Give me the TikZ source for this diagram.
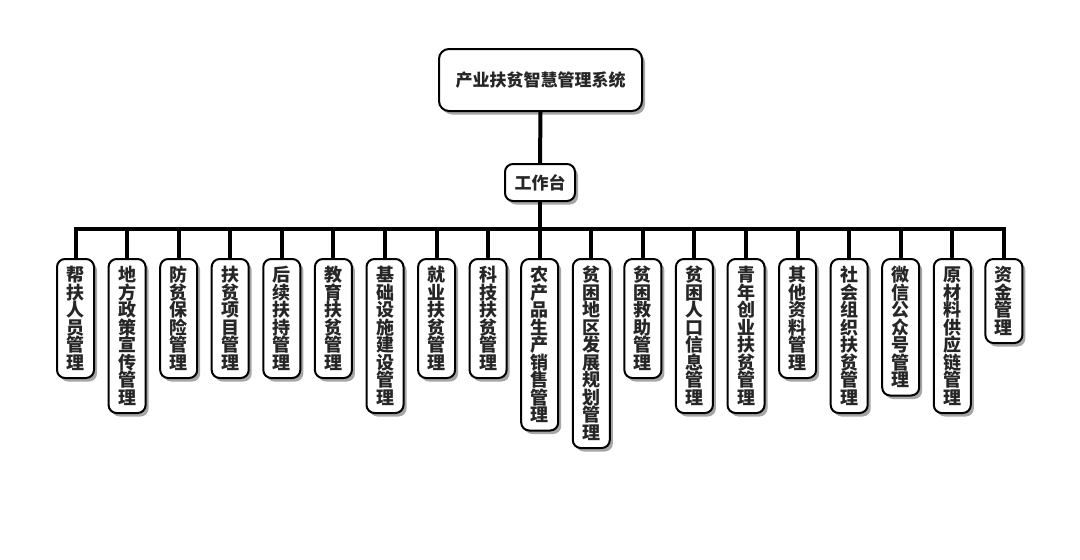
\documentclass[tikz,border=0pt]{standalone}
\usepackage{fontspec}
\setmainfont{Noto Sans CJK SC}
\usetikzlibrary{shadows,backgrounds}
\tikzset{
 box/.style={draw=black, line width=2pt, fill=white, rounded corners=8pt,
   drop shadow={shadow xshift=3pt, shadow yshift=-3.5pt, fill=black, opacity=0.35},
   font=\bfseries\fontsize{17}{17.5}\selectfont, text=black!85},
 leaf/.style={box, anchor=north, minimum width=37pt, inner sep=0pt, align=center,
   font=\bfseries\fontsize{18}{17.5}\selectfont},
 conn/.style={line width=4pt, draw=black}
}
\begin{document}
\begin{tikzpicture}[x=1pt,y=-1pt]
\useasboundingbox (0,0) rectangle (1080,560);
\node[box, minimum width=203pt, minimum height=62pt, rounded corners=10pt] (root) at (540.5,80) {产业扶贫智慧管理系统};
\node[box, minimum width=70pt, minimum height=37pt] (work) at (540,182.5) {工作台};
\coordinate (bar) at (540,229);
\node[leaf, minimum height=119pt] (c1) at (75.5,258) {帮\\扶\\人\\员\\管\\理};
\node[leaf, minimum height=154pt] (c2) at (127.1,258) {地\\方\\政\\策\\宣\\传\\管\\理};
\node[leaf, minimum height=119pt] (c3) at (178.7,258) {防\\贫\\保\\险\\管\\理};
\node[leaf, minimum height=119pt] (c4) at (230.2,258) {扶\\贫\\项\\目\\管\\理};
\node[leaf, minimum height=119pt] (c5) at (281.8,258) {后\\续\\扶\\持\\管\\理};
\node[leaf, minimum height=119pt] (c6) at (333.4,258) {教\\育\\扶\\贫\\管\\理};
\node[leaf, minimum height=154pt] (c7) at (385.0,258) {基\\础\\设\\施\\建\\设\\管\\理};
\node[leaf, minimum height=119pt] (c8) at (436.6,258) {就\\业\\扶\\贫\\管\\理};
\node[leaf, minimum height=119pt] (c9) at (488.1,258) {科\\技\\扶\\贫\\管\\理};
\node[leaf, minimum height=171.5pt] (c10) at (539.7,258) {农\\产\\品\\生\\产\\销\\售\\管\\理};
\node[leaf, minimum height=189pt] (c11) at (591.3,258) {贫\\困\\地\\区\\发\\展\\规\\划\\管\\理};
\node[leaf, minimum height=119pt] (c12) at (642.9,258) {贫\\困\\救\\助\\管\\理};
\node[leaf, minimum height=154pt] (c13) at (694.4,258) {贫\\困\\人\\口\\信\\息\\管\\理};
\node[leaf, minimum height=154pt] (c14) at (746.0,258) {青\\年\\创\\业\\扶\\贫\\管\\理};
\node[leaf, minimum height=119pt] (c15) at (797.6,258) {其\\他\\资\\料\\管\\理};
\node[leaf, minimum height=154pt] (c16) at (849.2,258) {社\\会\\组\\织\\扶\\贫\\管\\理};
\node[leaf, minimum height=136.5pt] (c17) at (900.7,258) {微\\信\\公\\众\\号\\管\\理};
\node[leaf, minimum height=154pt] (c18) at (952.3,258) {原\\材\\料\\供\\应\\链\\管\\理};
\node[leaf, minimum height=84pt] (c19) at (1003.9,258) {资\\金\\管\\理};
\begin{pgfonlayer}{background}
\draw[conn] (root.south) -- (work.north);
\draw[conn] (work.south) -- (bar);
\foreach \i in {1,...,19} {\draw[conn] (bar) -| (c\i.north);}
\end{pgfonlayer}
\end{tikzpicture}
\end{document}
